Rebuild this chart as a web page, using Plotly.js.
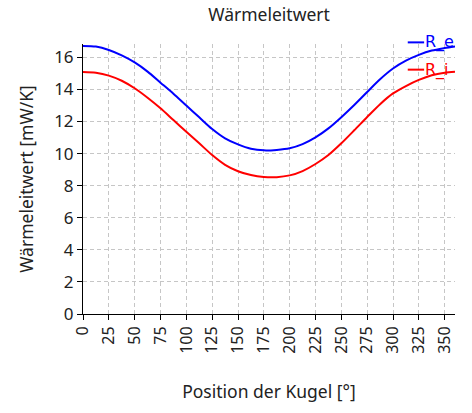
<!DOCTYPE html>
<html>
<head>
<meta charset="utf-8">
<script src="https://cdn.plot.ly/plotly-3.0.1.min.js"></script>
<style>
  html, body { margin: 0; padding: 0; background: #fff; }
  #grafico { width: 472px; height: 413px; }
</style>
</head>
<body>
<div id="grafico"></div>
<script>
// Position der Kugel [°]
const position = [0, 12.5, 25, 37.5, 50, 62.5, 75, 87.5, 100, 112.5, 125, 137.5, 150, 162.5, 175,
                  187.5, 200, 212.5, 225, 237.5, 250, 262.5, 275, 287.5, 300, 312.5, 325, 337.5, 350, 360];
// Wärmeleitwert [mW/K]
const rE = [16.71, 16.67, 16.46, 16.12, 15.68, 15.11, 14.42, 13.73, 12.99, 12.26, 11.53, 10.95, 10.57, 10.30, 10.20,
            10.23, 10.33, 10.59, 11.01, 11.57, 12.27, 13.03, 13.84, 14.63, 15.30, 15.79, 16.15, 16.42, 16.58, 16.68];
const rI = [15.09, 15.04, 14.86, 14.54, 14.07, 13.48, 12.82, 12.09, 11.36, 10.64, 9.91, 9.30, 8.90, 8.66, 8.54,
            8.53, 8.64, 8.91, 9.35, 9.91, 10.64, 11.45, 12.28, 13.08, 13.75, 14.21, 14.59, 14.88, 15.04, 15.10];

const namen = ['R_e', 'R_i'];
const farben = ['#0000ff', '#ff0000'];
const xTicks = [0, 25, 50, 75, 100, 125, 150, 175, 200, 225, 250, 275, 300, 325, 350];
const yTicks = [0, 2, 4, 6, 8, 10, 12, 14, 16];

const schrift = 'Noto Sans, Open Sans, sans-serif';
const textFarbe = '#222';

const traces = [rE, rI].map((werte, i) => ({
    x: position,
    y: werte,
    type: 'scatter',
    mode: 'lines',
    name: namen[i],
    line: { color: farben[i], width: 2, shape: 'spline', smoothing: 0.8 },
    showlegend: false
}));

// eigene Legende oben rechts (Text in Linienfarbe)
const legendeY = [1.006, 0.905];
const shapes = legendeY.map((yy, i) => ({
    type: 'line', xref: 'paper', yref: 'paper',
    x0: 0.873, x1: 0.917, y0: yy, y1: yy,
    line: { color: farben[i], width: 2 }
}));
const annotations = legendeY.map((yy, i) => ({
    xref: 'paper', yref: 'paper', x: 0.915, y: yy,
    xanchor: 'left', yanchor: 'middle',
    text: namen[i], showarrow: false,
    font: { family: 'DejaVu Sans, Noto Sans, sans-serif', size: 16, color: farben[i] }
}));

const achse = {
    showline: true, linecolor: '#000', linewidth: 1,
    ticks: 'outside', ticklen: 5, tickcolor: '#000',
    showgrid: true, gridcolor: '#c6c6c6', griddash: '4px,3px', gridwidth: 1,
    zeroline: false
};

const layout = {
    width: 472, height: 413,
    margin: { l: 83, r: 17, t: 44, b: 99 },
    paper_bgcolor: '#fff', plot_bgcolor: '#fff',
    font: { family: schrift, color: textFarbe },
    title: { text: 'Wärmeleitwert', x: 0.57, xanchor: 'center', y: 0.963, yanchor: 'middle',
             font: { family: schrift, size: 17.5, color: textFarbe } },
    xaxis: Object.assign({}, achse, {
        range: [0, 360], tickvals: xTicks, ticktext: xTicks.map(String), tickangle: -90,
        tickfont: { family: schrift, size: 16, color: textFarbe },
        title: { text: 'Position der Kugel [°]', standoff: 32, font: { family: schrift, size: 17.5, color: textFarbe } }
    }),
    yaxis: Object.assign({}, achse, {
        range: [0, 16.83], tickvals: yTicks, ticktext: yTicks.map(String),
        tickfont: { family: schrift, size: 17, color: textFarbe },
        title: { text: 'Wärmeleitwert [mW/K]', standoff: 16, font: { family: schrift, size: 17.5, color: textFarbe } }
    }),
    shapes: shapes,
    annotations: annotations
};

Plotly.newPlot('grafico', traces, layout, { displayModeBar: false, staticPlot: true });
</script>
</body>
</html>
